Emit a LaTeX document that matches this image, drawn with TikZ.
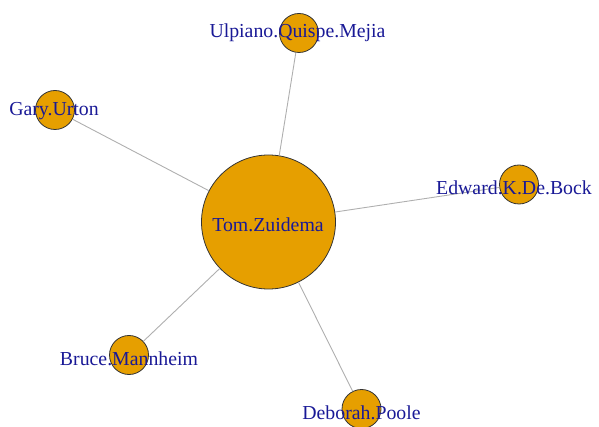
\documentclass[tikz,border=0pt]{standalone}
\usepackage{fontspec}
\setmainfont{Liberation Serif}
\usepackage{tikz}
\usetikzlibrary{positioning}
\definecolor{vorange}{RGB}{230,159,0}
\definecolor{vblue}{RGB}{25,25,150}
\definecolor{egray}{RGB}{175,175,175}

\begin{document}
\begin{tikzpicture}[
  x=1pt, y=-1pt,
  vert/.style={circle, draw=black!80, line width=0.8pt, fill=vorange, inner sep=0pt},
  big/.style={vert, minimum size=134pt},
  small/.style={vert, minimum size=39pt},
  lbl/.style={text=vblue, inner sep=0pt, font=\fontsize{19.8}{22}\selectfont},
  edge/.style={draw=egray, line width=0.9pt}
]
\useasboundingbox (0,0) rectangle (599,427);
\node[big] (tom) at (268.5,222) {};
\node[small] (ulpiano) at (299,33) {};
\node[small] (gary) at (55,110) {};
\node[small] (edward) at (519,184.5) {};
\node[small] (bruce) at (129,355) {};
\node[small] (deborah) at (361.5,409) {};
\draw[edge] (tom) -- (ulpiano);
\draw[edge] (tom) -- (gary);
\draw[edge] (tom) -- (edward);
\draw[edge] (tom) -- (bruce);
\draw[edge] (tom) -- (deborah);
\node[lbl] (tom-txt) at (268,225) {Tom.Zuidema};
\node[lbl] (ulpiano-txt) at (297.5,33) {Ulpiano.Quispe.Mejia};
\node[lbl] (gary-txt) at (54,111) {Gary.Urton};
\node[lbl] (edward-txt) at (514,188) {Edward.K.De.Bock};
\node[lbl] (bruce-txt) at (129,359) {Bruce.Mannheim};
\node[lbl] (deborah-txt) at (361.5,413) {Deborah.Poole};
\end{tikzpicture}
\end{document}
